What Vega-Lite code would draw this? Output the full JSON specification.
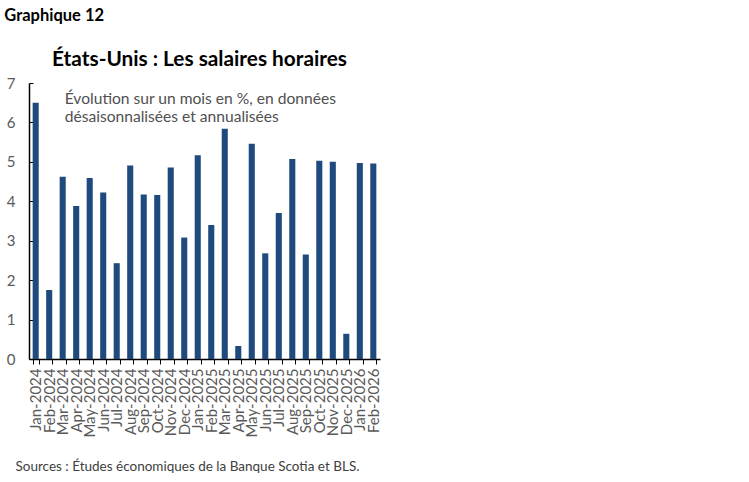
{
  "$schema": "https://vega.github.io/schema/vega-lite/v6.json",
  "autosize": "none",
  "width": 351,
  "height": 276,
  "padding": {"left": 29, "top": 83, "right": 369, "bottom": 123},
  "background": "white",
  "title": {
    "text": "Graphique 12",
    "font": "Lato",
    "fontSize": 16.5,
    "fontWeight": "bold",
    "color": "#000000",
    "anchor": "start",
    "frame": "bounds",
    "offset": 24,
    "dx": -2
  },
  "config": {
    "view": {"stroke": null},
    "font": "Lato",
    "axisX": {
      "titleFont": "Lato",
      "titleFontSize": 13.5,
      "titleFontWeight": "normal",
      "titleColor": "#404040",
      "titleAnchor": "start",
      "titleAlign": "left",
      "titleBaseline": "alphabetic",
      "titleX": -14,
      "titleY": 111,
      "labelAngle": -90,
      "labelAlign": "right",
      "labelBaseline": "middle",
      "labelFontSize": 15,
      "labelColor": "#595959",
      "labelPadding": 4,
      "labelOverlap": false,
      "tickBand": "extent",
      "tickColor": "#000000",
      "tickSize": 5,
      "domainColor": "#000000",
      "domainWidth": 1.5
    },
    "axisY": {
      "titleFont": "Lato",
      "titleFontSize": 20.8,
      "titleFontWeight": "bold",
      "titleColor": "#000000",
      "titleAngle": 0,
      "titleAlign": "center",
      "titleBaseline": "alphabetic",
      "titleX": 170,
      "titleY": -18,
      "grid": false,
      "labelFontSize": 15,
      "labelColor": "#595959",
      "labelPadding": 18,
      "labelOverlap": false,
      "tickSize": -4,
      "tickColor": "#000000",
      "domainColor": "#000000",
      "domainWidth": 1.5
    }
  },
  "datasets": {
    "wages": [
      {"month": "Jan-2024", "value": 6.5},
      {"month": "Feb-2024", "value": 1.75},
      {"month": "Mar-2024", "value": 4.62},
      {"month": "Apr-2024", "value": 3.88},
      {"month": "May-2024", "value": 4.59},
      {"month": "Jun-2024", "value": 4.22},
      {"month": "Jul-2024", "value": 2.43},
      {"month": "Aug-2024", "value": 4.91},
      {"month": "Sep-2024", "value": 4.17},
      {"month": "Oct-2024", "value": 4.16},
      {"month": "Nov-2024", "value": 4.86},
      {"month": "Dec-2024", "value": 3.08},
      {"month": "Jan-2025", "value": 5.17},
      {"month": "Feb-2025", "value": 3.4},
      {"month": "Mar-2025", "value": 5.84},
      {"month": "Apr-2025", "value": 0.33},
      {"month": "May-2025", "value": 5.46},
      {"month": "Jun-2025", "value": 2.68},
      {"month": "Jul-2025", "value": 3.7},
      {"month": "Aug-2025", "value": 5.07},
      {"month": "Sep-2025", "value": 2.65},
      {"month": "Oct-2025", "value": 5.03},
      {"month": "Nov-2025", "value": 5.0},
      {"month": "Dec-2025", "value": 0.64},
      {"month": "Jan-2026", "value": 4.97},
      {"month": "Feb-2026", "value": 4.96}
    ],
    "note": [
      {"text": ["Évolution sur un mois en %, en données", "désaisonnalisées et annualisées"]}
    ]
  },
  "layer": [
    {
      "data": {"name": "wages"},
      "mark": {"type": "bar", "color": "#1f4a7e"},
      "encoding": {
        "x": {
          "field": "month",
          "type": "ordinal",
          "sort": null,
          "scale": {"paddingInner": 0.55, "paddingOuter": 0.27},
          "axis": {"title": "Sources : Études économiques de la Banque Scotia et BLS."}
        },
        "y": {
          "field": "value",
          "type": "quantitative",
          "scale": {"domain": [0, 7], "nice": false},
          "axis": {
            "title": "États-Unis : Les salaires horaires",
            "values": [0, 1, 2, 3, 4, 5, 6, 7],
            "tickCount": 8
          }
        }
      }
    },
    {
      "data": {"name": "note"},
      "mark": {
        "type": "text",
        "align": "left",
        "baseline": "top",
        "fontSize": 15.6,
        "color": "#505050",
        "lineHeight": 18.5,
        "dx": 2
      },
      "encoding": {
        "x": {
          "datum": "Mar-2024",
          "type": "ordinal",
          "axis": {"title": "Sources : Études économiques de la Banque Scotia et BLS."}
        },
        "y": {
          "datum": 6.78,
          "type": "quantitative",
          "axis": {
            "title": "États-Unis : Les salaires horaires",
            "values": [0, 1, 2, 3, 4, 5, 6, 7],
            "tickCount": 8
          }
        },
        "text": {"field": "text"}
      }
    }
  ]
}
